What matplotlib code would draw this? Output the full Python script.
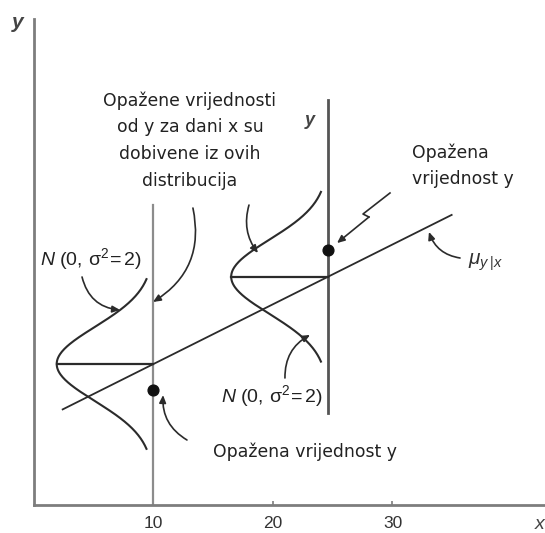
"""Normal regression model sketch: distributions of y around the mean line."""

import matplotlib

matplotlib.use("Agg")
import matplotlib.pyplot as plt
import numpy as np

# data (units of the x axis)
x_ticks = [10, 20, 30]
x_levels = [10, 24.6]
y_observed = [9.6, 21.3]
mean_intercept = 6.8
mean_slope = 0.5
mean_x_range = [2.4, 34.95]
sigma2 = 2
curve_height = 8.1          # how far the density bulges to the left
curve_scale = 3.1 / np.sqrt(sigma2)
curve_halfspan = 7.1

text_block = "Opažene vrijednosti\nod y za dani x su\ndobivene iz ovih\ndistribucija"
text_obs_right = "Opažena\nvrijednost y"
text_obs_bottom = "Opažena vrijednost y"
label_normal = r"$N\ \mathrm{(0,\,\sigma^2\!=2)}$"
label_mean = r"$\mu_{y\,|x}$"

plt.rcParams["mathtext.fontset"] = "custom"
plt.rcParams["mathtext.rm"] = "Liberation Sans"
plt.rcParams["mathtext.it"] = "Liberation Sans:italic"

W, H = 545, 533
fig = plt.figure(figsize=(W / 100, H / 100), dpi=100)
ax = fig.add_axes([34 / W, 28 / H, 511 / W, 505 / H])
ax.set_xlim(0, 511 / 11.95)
ax.set_ylim(0, 505 / 11.95)

for side in ["top", "right"]:
    ax.spines[side].set_visible(False)
for side in ["left", "bottom"]:
    ax.spines[side].set_color("#7d7d7d")
    ax.spines[side].set_linewidth(2)
ax.spines["left"].set_bounds(0, 40.67)
ax.set_xticks(x_ticks)
ax.set_xticklabels([str(t) for t in x_ticks], family="Liberation Sans", fontsize=12.5, color="#333333")
ax.set_yticks([])
ax.tick_params(axis="x", direction="in", length=3, width=1.2, color="#7d7d7d", pad=8)

ink = "#2b2b2b"

# vertical lines through each x level
ax.plot([x_levels[0], x_levels[0]], [0, 25.1], color="#8c8c8c", lw=1.6)
ax.plot([x_levels[1], x_levels[1]], [7.7, 33.9], color="#555555", lw=2)

# mean line
mx = np.array(mean_x_range)
ax.plot(mx, mean_intercept + mean_slope * mx, color=ink, lw=1.3)

# normal densities drawn sideways
for xl in x_levels:
    mu = mean_intercept + mean_slope * xl
    yy = np.linspace(mu - curve_halfspan, mu + curve_halfspan, 200)
    dens = np.exp(-((yy - mu) / curve_scale) ** 2 / (2 * sigma2))
    ax.plot(xl - curve_height * dens, yy, color=ink, lw=1.5)
    ax.plot([xl - curve_height, xl], [mu, mu], color=ink, lw=1.6)

ax.scatter(x_levels, y_observed, s=60, color="#111111", zorder=5)

# texts
txt = dict(family="DejaVu Sans", fontsize=12.4, color="#222222")
ax.text(13.05, 30.5, text_block, ha="center", va="center", linespacing=1.62, **txt)
ax.text(31.63, 28.4, text_obs_right, ha="left", va="center", linespacing=1.55, **txt)
ax.text(22.68, 4.44, text_obs_bottom, ha="center", va="center", **txt)
ax.text(4.75, 20.6, label_normal, ha="center", va="center", fontsize=14, color="#222222")
ax.text(19.9, 9.1, label_normal, ha="center", va="center", fontsize=14, color="#222222")
ax.text(36.3, 20.3, label_mean, ha="left", va="center", fontsize=15, color="#333333")
ax.text(23.1, 32.2, "y", ha="center", va="center", fontsize=13, style="italic",
        family="Liberation Sans", weight="bold", color="#444444")
ax.text(-1.34, 40.4, "y", ha="center", va="center", fontsize=15, style="italic",
        family="Liberation Sans", weight="bold", color="#444444", clip_on=False)
ax.text(42.3, -1.67, "x", ha="center", va="center", fontsize=14, style="italic",
        family="Liberation Sans", color="#444444", clip_on=False)

# arrows
arrow = dict(arrowstyle="-|>,head_length=0.45,head_width=0.2", color=ink, lw=1.2,
             shrinkA=0, shrinkB=0)


def curved(start, end, rad):
    ax.annotate("", xy=end, xytext=start,
                arrowprops=dict(connectionstyle=f"arc3,rad={rad}", **arrow))


curved((4.02, 19.08), (7.2, 16.32), 0.35)
curved((13.3, 24.85), (9.96, 16.99), -0.35)
curved((17.99, 25.1), (18.74, 21.09), 0.25)
curved((21.0, 10.63), (23.1, 14.23), -0.3)
curved((12.8, 5.44), (10.8, 9.2), -0.3)
curved((35.65, 20.67), (33.05, 22.85), -0.3)

# zigzag arrow to the observed point
ax.plot([29.79, 27.53, 28.03], [26.11, 24.35, 24.1], color=ink, lw=1.2)
curved((28.03, 24.1), (25.36, 21.92), 0)

fig.savefig("out.png", dpi=100)
